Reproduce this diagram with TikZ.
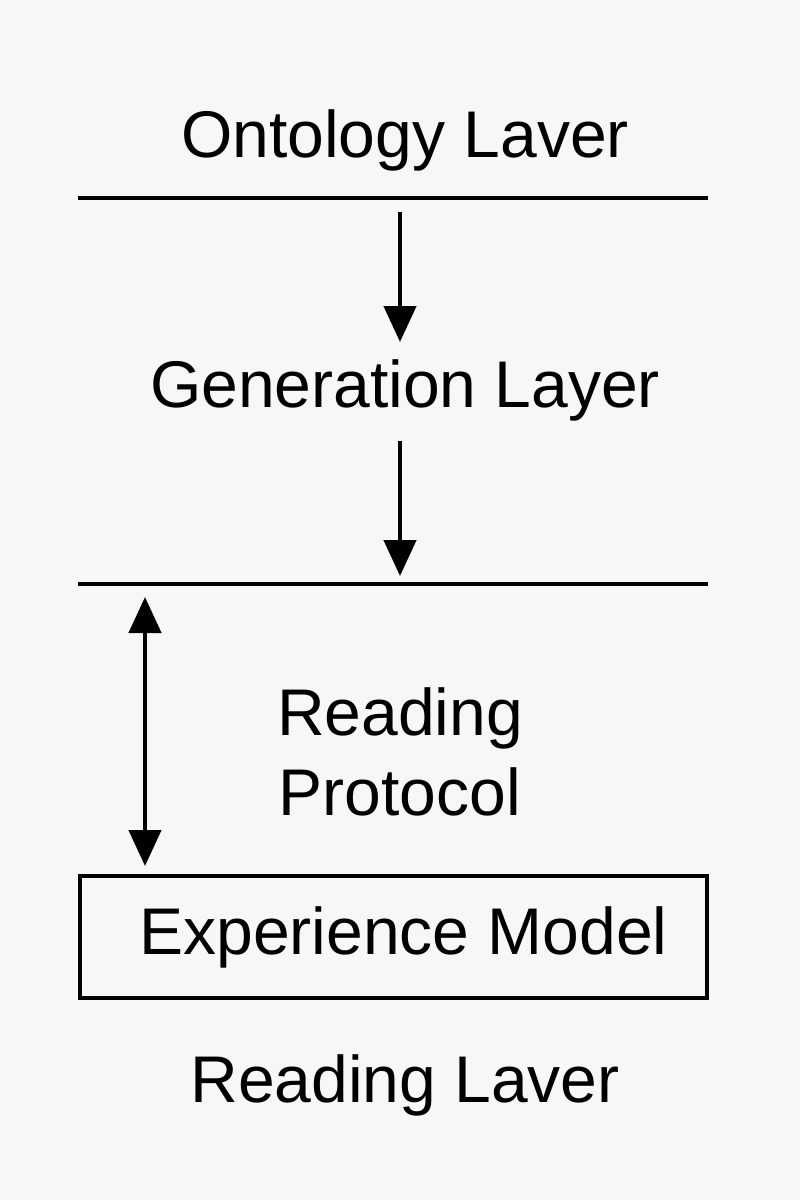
\documentclass[tikz,border=0pt]{standalone}
\usepackage{fontspec}
\setmainfont{Liberation Sans}
\usetikzlibrary{arrows.meta}
\begin{document}
\begin{tikzpicture}[x=1pt,y=-1pt,
  lbl/.style={font=\fontsize{66}{80}\selectfont,inner sep=0pt,align=center},
  rule/.style={line width=4.5pt},
  arr/.style={line width=4.5pt,-{Triangle[length=36pt,width=32pt]}},
  darr/.style={line width=4.5pt,{Triangle[length=36pt,width=32pt]}-{Triangle[length=36pt,width=32pt]}}]
\fill[gray!6] (0,0) rectangle (800,1200);
\useasboundingbox (0,0) rectangle (800,1200);
\node[lbl] (ont) at (405,140) {Ontology Laver};
\coordinate (l1a) at (78,198); \coordinate (l1b) at (708,198);
\draw[rule] (l1a) -- (l1b);
\coordinate (a1s) at (400,212); \coordinate (a1e) at (400,342);
\draw[arr] (a1s) -- (a1e);
\node[lbl] (gen) at (405,390) {Generation Layer};
\coordinate (a2s) at (400,441); \coordinate (a2e) at (400,576);
\draw[arr] (a2s) -- (a2e);
\coordinate (l2a) at (78,584); \coordinate (l2b) at (708,584);
\draw[rule] (l2a) -- (l2b);
\coordinate (d1) at (145,597); \coordinate (d2) at (145,866);
\draw[darr] (d1) -- (d2);
\node[lbl] (rp) at (400,752) {Reading\\Protocol};
\node[lbl,draw,line width=4.5pt,minimum width=627pt,minimum height=122pt] (exp) at (393.5,937) {\hspace*{20pt}Experience Model};
\node[lbl] (rl) at (405,1085) {Reading Laver};
\end{tikzpicture}
\end{document}
